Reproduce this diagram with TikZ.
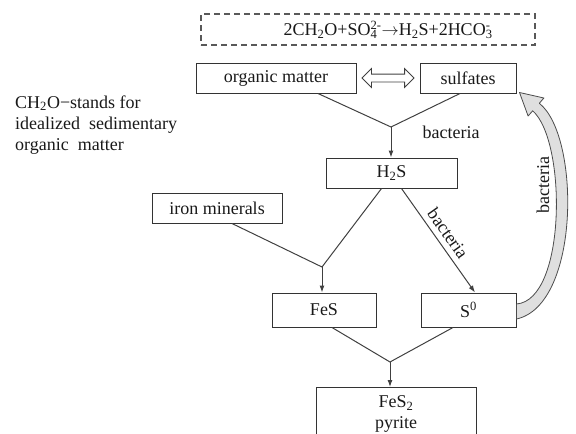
\documentclass[tikz,border=0pt]{standalone}
\usepackage{fontspec}
\setmainfont{Liberation Serif}
\usetikzlibrary{arrows.meta,shapes.arrows,calc}
\newcommand{\chemion}[2]{\rlap{\textsubscript{#1}}\textsuperscript{#2}}

\begin{document}
\begin{tikzpicture}[x=1pt,y=-1pt,
		font=\fontsize{18}{21}\selectfont, text=black!90,
		box/.style={draw=black!80, line width=1pt, inner sep=0pt, minimum height=30pt},
		link/.style={draw=black!75, line width=1pt},
		flow/.style={link, -{Latex[length=7pt,width=5pt]}}]
	\useasboundingbox (0,0) rectangle (576,434);
	\clip (0,0) rectangle (576,434);
	% reaction
	\node[draw=black!65, line width=1.5pt, dash pattern=on 6pt off 4pt, minimum width=334pt, minimum height=31pt] (eqbox) at (368,29.5) {};
	\node (eq) at (387,30) {2CH\textsubscript{2}O+SO\chemion{4}{2-}$\rightarrow$H\textsubscript{2}S+2HCO\chemion{3}{-}};
	\node[align=left, anchor=west, inner sep=0pt] (note) at (15,125) {CH\textsubscript{2}O−stands for\\idealized\ \ sedimentary\\organic\ \ matter};
	% boxes
	\node[box, minimum width=160pt] (om) at (276,78) {organic matter};
	\node[box, minimum width=96pt] (sul) at (468,78) {sulfates};
	\node[double arrow, draw=black!75, line width=0.8pt, minimum width=18pt, minimum height=52pt, double arrow head extend=5.5pt, inner sep=3.5pt] (swap) at ($(om.east)!0.5!(sul.west)$) {};
	\node[box, minimum width=131pt] (h2s) at (391.5,173) {H\textsubscript{2}S};
	\node[box, minimum width=130pt] (iron) at (217,208) {iron minerals};
	\node[box, minimum width=104pt, minimum height=34pt] (fes) at (324,310) {FeS};
	\node[box, minimum width=95pt, minimum height=34pt] (s0) at (468.5,310) {S\textsuperscript{0}};
	\node[box, minimum width=160pt, anchor=north, align=center, inner ysep=8pt] (pyr) at (396,387) {FeS\textsubscript{2}\\pyrite\\\mbox{}};
	% joins
	\coordinate (m1) at (391,127);
	\coordinate (m2) at (322,267);
	\coordinate (m3) at (390,362);
	\draw[link] ([xshift=42pt]om.south) -- (m1) -- ([xshift=-8pt]sul.south);
	\draw[flow] (m1) -- (m1 |- h2s.north);
	\node[anchor=west] (bac1) at (419,132) {bacteria};
	\draw[link] ([xshift=15pt]iron.south) -- (m2) -- ([xshift=-10pt]h2s.south);
	\draw[flow] (m2) -- (m2 |- fes.north);
	\draw[flow] ([xshift=10pt]h2s.south) -- node[midway, sloped, above=2pt] (bac2) {bacteria} ([xshift=6.5pt]s0.north);
	\draw[link] ([xshift=8pt]fes.south) -- (m3) -- ([xshift=-15.5pt]s0.south);
	\draw[flow] (m3) -- (m3 |- pyr.north);
	% back to sulfates
	\coordinate (p1) at ($(s0.east)+(0,9)$);
	\coordinate (p2) at ($(s0.east)+(0,-6)$);
	\coordinate (tip) at ($(sul.south east)+(3,-1)$);
	\coordinate (w1) at ($(sul.south east)+(27.4,4.5)$);
	\coordinate (w2) at ($(sul.south east)+(11.6,22.5)$);
	\coordinate (s1) at ($(sul.south east)+(22.8,9.8)$);
	\coordinate (s2) at ($(sul.south east)+(16.2,17.3)$);
	\filldraw[fill=gray!25, draw=black!70, line width=0.8pt, line join=round] (p1) .. controls +(64,-14) and +(41,32) .. (s1) -- (w1) -- (tip) -- (w2) -- (s2) .. controls +(34,30) and +(50,-4) .. (p2) -- cycle;
	\node[rotate=90] (bac3) at (543,185) {bacteria};
\end{tikzpicture}
\end{document}
